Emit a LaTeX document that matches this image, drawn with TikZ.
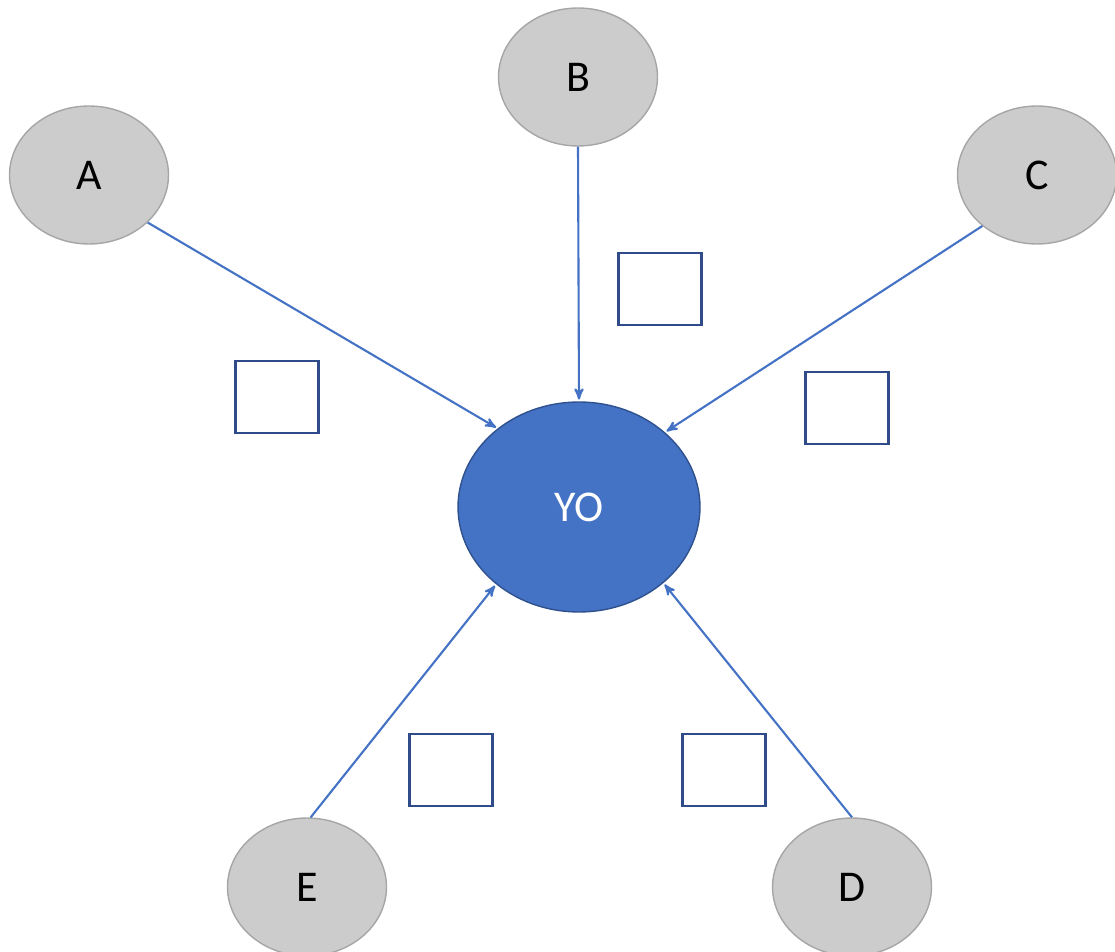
\documentclass[tikz,border=0pt]{standalone}
\usepackage{fontspec}
\setmainfont{Carlito}
\usepackage{tikz}
\usetikzlibrary{arrows,shapes.geometric}
\definecolor{nodegray}{HTML}{CCCCCC}
\definecolor{rimgray}{HTML}{A6A6A6}
\definecolor{yoblue}{HTML}{4472C4}
\definecolor{yorim}{HTML}{2F528F}
\definecolor{boxblue}{HTML}{2F4B8A}

\begin{document}
\begin{tikzpicture}[x=0.02cm,y=-0.02cm,->,>=stealth',shorten >=1pt,
                    line width=1.2pt]
  \tikzstyle{every node}=[font=\fontsize{25}{30}\selectfont]
  \tikzstyle{person}=[ellipse,fill=nodegray,draw=rimgray,line width=0.8pt,
                      minimum width=3.18cm,minimum height=2.76cm,inner sep=0pt,text=black]
  \tikzstyle{me}=[ellipse,fill=yoblue,draw=yorim,line width=0.8pt,
                  minimum width=4.84cm,minimum height=4.2cm,inner sep=0pt,text=white]
  \tikzstyle{tag}=[draw=boxblue,line width=1.3pt,fill=white,
                   minimum width=1.66cm,minimum height=1.44cm,inner sep=0pt]
  \tikzstyle{link}=[draw=yoblue]

  \useasboundingbox (0,0) rectangle (1115,952);

  \node[me]     (YO) at (579,507) {YO};
  \node[person] (A)  at (89,175)  {A};
  \node[person] (B)  at (578,77)  {B};
  \node[person] (C)  at (1037,175) {C};
  \node[person] (E)  at (307,887) {E};
  \node[person] (D)  at (852,887) {D};

  \node[tag] (tA) at (277,397) {};
  \node[tag] (tB) at (660,289) {};
  \node[tag] (tC) at (847,408) {};
  \node[tag] (tE) at (451,770) {};
  \node[tag] (tD) at (724,770) {};

  \path (A.321) edge [link] (YO.136)
        (B.south) edge [link] (YO.north)
        (C.223) edge [link] (YO.41)
        (E.87) edge [link] (YO.223)
        (D.90) edge [link] (YO.318);
\end{tikzpicture}
\end{document}
